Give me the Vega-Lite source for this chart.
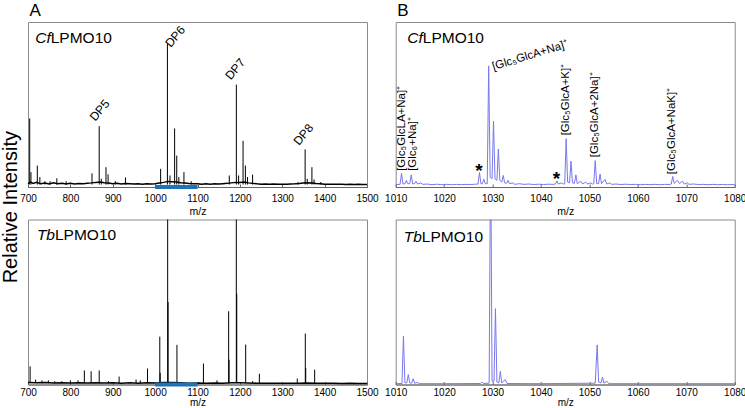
{
  "$schema": "https://vega.github.io/schema/vega-lite/v6.json",
  "background": "white",
  "padding": {"left": 0, "top": 1.0, "right": 0, "bottom": 0},
  "config": {
    "font": "Liberation Sans",
    "view": {"stroke": "#8a8a8a", "strokeWidth": 1},
    "axis": {"grid": false, "labelFont": "Liberation Sans", "labelFontSize": 10, "labelColor": "#000", "titleFont": "Liberation Sans", "titleFontSize": 10.5, "titleFontWeight": "normal", "titleColor": "#000", "tickSize": -3, "tickColor": "#666", "domainColor": "#666", "labelPadding": 9, "titlePadding": 3, "labelFlush": false, "format": "d"},
    "title": {"anchor": "start", "frame": "group", "fontSize": 17, "fontWeight": "normal", "font": "Liberation Sans", "color": "#000", "offset": 2.3, "dx": 1.5, "baseline": "alphabetic"},
    "text": {"font": "Liberation Sans", "color": "#000"}
  },
  "datasets": {
    "cfA_base": [{"mz":700,"i":0.02},{"mz":706,"i":0.03},{"mz":712,"i":0.022},{"mz":720,"i":0.028},{"mz":730,"i":0.02},{"mz":740,"i":0.024},{"mz":750,"i":0.019},{"mz":760,"i":0.025},{"mz":770,"i":0.02},{"mz":780,"i":0.022},{"mz":790,"i":0.018},{"mz":800,"i":0.022},{"mz":810,"i":0.018},{"mz":820,"i":0.021},{"mz":830,"i":0.019},{"mz":840,"i":0.023},{"mz":850,"i":0.025},{"mz":860,"i":0.028},{"mz":870,"i":0.03},{"mz":880,"i":0.026},{"mz":890,"i":0.024},{"mz":900,"i":0.02},{"mz":910,"i":0.022},{"mz":920,"i":0.018},{"mz":930,"i":0.021},{"mz":940,"i":0.02},{"mz":950,"i":0.018},{"mz":960,"i":0.02},{"mz":970,"i":0.017},{"mz":980,"i":0.019},{"mz":990,"i":0.018},{"mz":1000,"i":0.02},{"mz":1010,"i":0.024},{"mz":1020,"i":0.028},{"mz":1030,"i":0.034},{"mz":1040,"i":0.032},{"mz":1050,"i":0.03},{"mz":1060,"i":0.026},{"mz":1070,"i":0.024},{"mz":1080,"i":0.021},{"mz":1090,"i":0.019},{"mz":1100,"i":0.02},{"mz":1110,"i":0.017},{"mz":1120,"i":0.019},{"mz":1130,"i":0.017},{"mz":1140,"i":0.019},{"mz":1150,"i":0.018},{"mz":1160,"i":0.02},{"mz":1170,"i":0.022},{"mz":1180,"i":0.025},{"mz":1190,"i":0.028},{"mz":1200,"i":0.027},{"mz":1210,"i":0.03},{"mz":1220,"i":0.025},{"mz":1230,"i":0.022},{"mz":1240,"i":0.019},{"mz":1250,"i":0.017},{"mz":1260,"i":0.018},{"mz":1270,"i":0.016},{"mz":1280,"i":0.018},{"mz":1290,"i":0.016},{"mz":1300,"i":0.017},{"mz":1310,"i":0.016},{"mz":1320,"i":0.018},{"mz":1330,"i":0.019},{"mz":1340,"i":0.021},{"mz":1350,"i":0.024},{"mz":1360,"i":0.026},{"mz":1370,"i":0.024},{"mz":1380,"i":0.021},{"mz":1390,"i":0.019},{"mz":1400,"i":0.017},{"mz":1410,"i":0.016},{"mz":1420,"i":0.017},{"mz":1430,"i":0.016},{"mz":1440,"i":0.016},{"mz":1450,"i":0.015},{"mz":1460,"i":0.016},{"mz":1470,"i":0.015},{"mz":1480,"i":0.016},{"mz":1490,"i":0.015},{"mz":1500,"i":0.015}],
    "cfA_peaks": [{"mz":704,"i":0.415},{"mz":707,"i":0.09},{"mz":722,"i":0.13},{"mz":728,"i":0.06},{"mz":740,"i":0.035},{"mz":752,"i":0.035},{"mz":768,"i":0.053},{"mz":790,"i":0.035},{"mz":851,"i":0.083},{"mz":868,"i":0.369},{"mz":873,"i":0.05},{"mz":884,"i":0.12},{"mz":889,"i":0.077},{"mz":906,"i":0.035},{"mz":930,"i":0.058},{"mz":1013,"i":0.11},{"mz":1029,"i":0.867},{"mz":1035,"i":0.07},{"mz":1046,"i":0.355},{"mz":1051,"i":0.19},{"mz":1056,"i":0.06},{"mz":1068,"i":0.09},{"mz":1085,"i":0.035},{"mz":1175,"i":0.07},{"mz":1191.7,"i":0.62},{"mz":1197,"i":0.07},{"mz":1207.5,"i":0.28},{"mz":1213,"i":0.13},{"mz":1218,"i":0.06},{"mz":1230,"i":0.075},{"mz":1337,"i":0.03},{"mz":1354,"i":0.228},{"mz":1359,"i":0.05},{"mz":1370,"i":0.12},{"mz":1375,"i":0.045},{"mz":1391,"i":0.03}],
    "tbA_base": [{"mz":700,"i":0.012},{"mz":720,"i":0.01},{"mz":740,"i":0.012},{"mz":760,"i":0.009},{"mz":780,"i":0.011},{"mz":800,"i":0.009},{"mz":820,"i":0.011},{"mz":840,"i":0.009},{"mz":860,"i":0.011},{"mz":880,"i":0.009},{"mz":900,"i":0.01},{"mz":920,"i":0.008},{"mz":940,"i":0.01},{"mz":960,"i":0.008},{"mz":980,"i":0.01},{"mz":1000,"i":0.009},{"mz":1020,"i":0.012},{"mz":1040,"i":0.012},{"mz":1060,"i":0.01},{"mz":1080,"i":0.008},{"mz":1100,"i":0.009},{"mz":1120,"i":0.008},{"mz":1140,"i":0.009},{"mz":1160,"i":0.008},{"mz":1180,"i":0.011},{"mz":1200,"i":0.01},{"mz":1220,"i":0.009},{"mz":1240,"i":0.008},{"mz":1260,"i":0.008},{"mz":1280,"i":0.007},{"mz":1300,"i":0.008},{"mz":1320,"i":0.007},{"mz":1340,"i":0.008},{"mz":1360,"i":0.009},{"mz":1380,"i":0.008},{"mz":1400,"i":0.007},{"mz":1420,"i":0.007},{"mz":1440,"i":0.006},{"mz":1460,"i":0.007},{"mz":1480,"i":0.006},{"mz":1500,"i":0.006}],
    "tbA_peaks": [{"mz":705,"i":0.11},{"mz":718,"i":0.03},{"mz":733,"i":0.025},{"mz":748,"i":0.025},{"mz":763,"i":0.02},{"mz":780,"i":0.02},{"mz":800,"i":0.025},{"mz":818,"i":0.025},{"mz":833,"i":0.085},{"mz":849,"i":0.08},{"mz":868,"i":0.085},{"mz":890,"i":0.02},{"mz":915,"i":0.048},{"mz":955,"i":0.03},{"mz":965,"i":0.025},{"mz":982,"i":0.097},{"mz":1011,"i":0.29},{"mz":1012,"i":0.07},{"mz":1029.6,"i":1.5},{"mz":1030.6,"i":0.5},{"mz":1051.5,"i":0.24},{"mz":1114,"i":0.127},{"mz":1146,"i":0.025},{"mz":1173.5,"i":0.444},{"mz":1174.5,"i":0.15},{"mz":1191.6,"i":1.5},{"mz":1192.6,"i":0.55},{"mz":1213.7,"i":0.242},{"mz":1230,"i":0.02},{"mz":1246,"i":0.065},{"mz":1335.5,"i":0.036},{"mz":1354.4,"i":0.309},{"mz":1355.4,"i":0.1},{"mz":1376.5,"i":0.09}],
    "cfB": [{"mz":1010,"i":0.015},{"mz":1010.9,"i":0.016},{"mz":1011.2,"i":0.082},{"mz":1011.5,"i":0.018},{"mz":1011.9,"i":0.02},{"mz":1012.2,"i":0.04},{"mz":1012.5,"i":0.02},{"mz":1012.9,"i":0.02},{"mz":1013.2,"i":0.074},{"mz":1013.5,"i":0.02},{"mz":1013.9,"i":0.02},{"mz":1014.2,"i":0.035},{"mz":1014.5,"i":0.018},{"mz":1015.2,"i":0.024},{"mz":1015.6,"i":0.016},{"mz":1016.5,"i":0.018},{"mz":1017.5,"i":0.014},{"mz":1018.5,"i":0.017},{"mz":1019.5,"i":0.014},{"mz":1020.5,"i":0.016},{"mz":1021.5,"i":0.014},{"mz":1022.5,"i":0.016},{"mz":1023.5,"i":0.014},{"mz":1024.5,"i":0.016},{"mz":1025.5,"i":0.015},{"mz":1026.5,"i":0.017},{"mz":1027.0,"i":0.018},{"mz":1027.3,"i":0.088},{"mz":1027.6,"i":0.02},{"mz":1027.9,"i":0.02},{"mz":1028.2,"i":0.047},{"mz":1028.5,"i":0.02},{"mz":1028.9,"i":0.02},{"mz":1029.2,"i":0.734},{"mz":1029.5,"i":0.06},{"mz":1029.9,"i":0.05},{"mz":1030.2,"i":0.4},{"mz":1030.5,"i":0.05},{"mz":1030.9,"i":0.04},{"mz":1031.2,"i":0.23},{"mz":1031.5,"i":0.04},{"mz":1031.9,"i":0.03},{"mz":1032.2,"i":0.07},{"mz":1032.5,"i":0.025},{"mz":1032.9,"i":0.022},{"mz":1033.2,"i":0.04},{"mz":1033.5,"i":0.02},{"mz":1034.2,"i":0.025},{"mz":1034.6,"i":0.016},{"mz":1035.5,"i":0.02},{"mz":1036.5,"i":0.016},{"mz":1037.5,"i":0.018},{"mz":1038.5,"i":0.015},{"mz":1039.5,"i":0.017},{"mz":1040.5,"i":0.015},{"mz":1041.5,"i":0.017},{"mz":1042.5,"i":0.016},{"mz":1043.0,"i":0.018},{"mz":1043.3,"i":0.037},{"mz":1043.6,"i":0.018},{"mz":1044.2,"i":0.025},{"mz":1044.6,"i":0.018},{"mz":1044.9,"i":0.02},{"mz":1045.2,"i":0.293},{"mz":1045.5,"i":0.03},{"mz":1045.9,"i":0.025},{"mz":1046.2,"i":0.156},{"mz":1046.5,"i":0.025},{"mz":1046.9,"i":0.022},{"mz":1047.2,"i":0.074},{"mz":1047.5,"i":0.02},{"mz":1048.2,"i":0.035},{"mz":1048.6,"i":0.018},{"mz":1049.2,"i":0.03},{"mz":1049.6,"i":0.018},{"mz":1050.2,"i":0.025},{"mz":1050.6,"i":0.018},{"mz":1050.9,"i":0.02},{"mz":1051.2,"i":0.16},{"mz":1051.5,"i":0.022},{"mz":1051.9,"i":0.02},{"mz":1052.2,"i":0.078},{"mz":1052.5,"i":0.02},{"mz":1053.2,"i":0.045},{"mz":1053.6,"i":0.018},{"mz":1054.2,"i":0.025},{"mz":1054.6,"i":0.016},{"mz":1055.5,"i":0.018},{"mz":1056.5,"i":0.015},{"mz":1057.5,"i":0.017},{"mz":1058.5,"i":0.015},{"mz":1059.5,"i":0.016},{"mz":1060.5,"i":0.014},{"mz":1061.5,"i":0.016},{"mz":1062.5,"i":0.014},{"mz":1063.5,"i":0.016},{"mz":1064.5,"i":0.014},{"mz":1065.5,"i":0.016},{"mz":1066.5,"i":0.015},{"mz":1066.9,"i":0.018},{"mz":1067.2,"i":0.064},{"mz":1067.5,"i":0.022},{"mz":1068.2,"i":0.04},{"mz":1068.6,"i":0.02},{"mz":1069.2,"i":0.035},{"mz":1069.6,"i":0.018},{"mz":1070.2,"i":0.025},{"mz":1070.6,"i":0.016},{"mz":1071.5,"i":0.018},{"mz":1072.5,"i":0.015},{"mz":1073.5,"i":0.016},{"mz":1074.5,"i":0.014},{"mz":1075.5,"i":0.016},{"mz":1076.5,"i":0.014},{"mz":1077.5,"i":0.015},{"mz":1078.5,"i":0.014},{"mz":1080,"i":0.015}],
    "tbB": [{"mz":1010,"i":0.005},{"mz":1011.3,"i":0.006},{"mz":1011.6,"i":0.294},{"mz":1011.9,"i":0.01},{"mz":1012.3,"i":0.01},{"mz":1012.6,"i":0.06},{"mz":1012.9,"i":0.01},{"mz":1013.3,"i":0.008},{"mz":1013.6,"i":0.035},{"mz":1013.9,"i":0.008},{"mz":1014.5,"i":0.012},{"mz":1015,"i":0.005},{"mz":1020,"i":0.005},{"mz":1027.5,"i":0.006},{"mz":1027.8,"i":0.015},{"mz":1028.1,"i":0.006},{"mz":1029.3,"i":0.008},{"mz":1029.6,"i":1.5},{"mz":1029.9,"i":0.02},{"mz":1030.3,"i":0.02},{"mz":1030.6,"i":0.46},{"mz":1030.9,"i":0.015},{"mz":1031.3,"i":0.01},{"mz":1031.6,"i":0.08},{"mz":1031.9,"i":0.01},{"mz":1032.6,"i":0.03},{"mz":1033,"i":0.006},{"mz":1040,"i":0.005},{"mz":1051.2,"i":0.008},{"mz":1051.6,"i":0.24},{"mz":1051.9,"i":0.015},{"mz":1052.4,"i":0.01},{"mz":1052.7,"i":0.045},{"mz":1053.0,"i":0.008},{"mz":1053.6,"i":0.02},{"mz":1054,"i":0.005},{"mz":1060,"i":0.005},{"mz":1080,"i":0.005}],
    "bar": [{"start":1000,"end":1100}]
  },
  "columns": 2,
  "spacing": {"row": 32.5, "column": 28.7},
  "bounds": "flush",
  "concat": [
    {
      "width": 339, "height": 165,
      "title": {"text": "A"},
      "layer": [
        {"data": {"name": "cfA_base"}, "mark": {"type": "line", "color": "#000", "strokeWidth": 1.5},
         "encoding": {
           "x": {"field": "mz", "type": "quantitative", "scale": {"domain": [700, 1500]},
                 "axis": {"title": "m/z", "values": [700,750,800,850,900,950,1000,1050,1100,1150,1200,1250,1300,1350,1400,1450,1500], "labelExpr": "datum.value % 100 === 0 ? datum.label : ''"}},
           "y": {"field": "i", "type": "quantitative", "scale": {"domain": [0, 1]},
                 "axis": {"title": "Relative Intensity", "labels": false, "ticks": false, "domain": false, "titleFontSize": 20, "titleX": -11.5, "titleY": 184.7, "titleAngle": 270, "titleAlign": "center", "titleBaseline": "alphabetic"}}
         }},
        {"data": {"name": "cfA_peaks"}, "mark": {"type": "rule", "color": "#000", "strokeWidth": 1},
         "encoding": {"x": {"field": "mz", "type": "quantitative"}, "y": {"field": "i", "type": "quantitative"}, "y2": {"datum": 0.015}}},
        {"data": {"name": "bar"}, "mark": {"type": "rule", "color": "#1f72b6", "strokeWidth": 4},
         "encoding": {"x": {"field": "start", "type": "quantitative"}, "x2": {"field": "end"}, "y": {"datum": 0}}},
        {"data": {"values": [{"mz": 858.8, "i": 0.395, "t": "DP5"}, {"mz": 1036.7, "i": 0.842, "t": "DP6"}, {"mz": 1178.3, "i": 0.645, "t": "DP7"}, {"mz": 1339.5, "i": 0.248, "t": "DP8"}]},
         "mark": {"type": "text", "angle": 310, "align": "left", "baseline": "alphabetic", "fontSize": 12},
         "encoding": {"x": {"field": "mz", "type": "quantitative"}, "y": {"field": "i", "type": "quantitative"}, "text": {"field": "t"}}},
        {"data": {"values": [{"mz": 753.6, "i": 0.872, "a": "Cf", "b": "LPMO10"}]},
         "mark": {"type": "text", "align": "right", "baseline": "alphabetic", "fontSize": 15.5, "fontStyle": "italic"},
         "encoding": {"x": {"field": "mz", "type": "quantitative"}, "y": {"field": "i", "type": "quantitative"}, "text": {"field": "a"}}},
        {"data": {"values": [{"mz": 753.6, "i": 0.872, "a": "Cf", "b": "LPMO10"}]},
         "mark": {"type": "text", "align": "left", "baseline": "alphabetic", "fontSize": 15.5},
         "encoding": {"x": {"field": "mz", "type": "quantitative"}, "y": {"field": "i", "type": "quantitative"}, "text": {"field": "b"}}}
      ]
    },
    {
      "width": 339, "height": 165,
      "title": {"text": "B"},
      "layer": [
        {"data": {"name": "cfB"}, "mark": {"type": "line", "color": "#7878ee", "strokeWidth": 1, "clip": true},
         "encoding": {
           "x": {"field": "mz", "type": "quantitative", "scale": {"domain": [1010, 1080]},
                 "axis": {"title": "m/z", "values": [1010,1015,1020,1025,1030,1035,1040,1045,1050,1055,1060,1065,1070,1075,1080], "labelExpr": "datum.value % 10 === 0 ? datum.label : ''"}},
           "y": {"field": "i", "type": "quantitative", "scale": {"domain": [0, 1]}, "axis": null}
         }},
        {"data": {"values": [{"mz": 1011.2, "i": 0.098, "t": "[Glc₅GlcLA+Na]⁺"}, {"mz": 1013.5, "i": 0.098, "t": "[Glc₆+Na]⁺"}, {"mz": 1045.1, "i": 0.313, "t": "[Glc₅GlcA+K]⁺"}, {"mz": 1051.1, "i": 0.18, "t": "[Glc₅GlcA+2Na]⁺"}, {"mz": 1067.1, "i": 0.078, "t": "[Glc₅GlcA+NaK]⁺"}]},
         "mark": {"type": "text", "angle": 270, "align": "left", "baseline": "middle", "fontSize": 11.5},
         "encoding": {"x": {"field": "mz", "type": "quantitative"}, "y": {"field": "i", "type": "quantitative"}, "text": {"field": "t"}}},
        {"data": {"values": [{"mz": 1030.2, "i": 0.708, "t": "[Glc₅GlcA+Na]⁺"}]},
         "mark": {"type": "text", "angle": 343, "align": "left", "baseline": "alphabetic", "fontSize": 11.5},
         "encoding": {"x": {"field": "mz", "type": "quantitative"}, "y": {"field": "i", "type": "quantitative"}, "text": {"field": "t"}}},
        {"data": {"values": [{"mz": 1027.2, "i": 0.058, "t": "*"}, {"mz": 1043.2, "i": 0.01, "t": "*"}]},
         "mark": {"type": "text", "align": "center", "baseline": "alphabetic", "fontSize": 19, "fontWeight": "bold"},
         "encoding": {"x": {"field": "mz", "type": "quantitative"}, "y": {"field": "i", "type": "quantitative"}, "text": {"field": "t"}}},
        {"data": {"values": [{"mz": 1015.6, "i": 0.871, "a": "Cf", "b": "LPMO10"}]},
         "mark": {"type": "text", "align": "right", "baseline": "alphabetic", "fontSize": 15.5, "fontStyle": "italic"},
         "encoding": {"x": {"field": "mz", "type": "quantitative"}, "y": {"field": "i", "type": "quantitative"}, "text": {"field": "a"}}},
        {"data": {"values": [{"mz": 1015.6, "i": 0.871, "a": "Cf", "b": "LPMO10"}]},
         "mark": {"type": "text", "align": "left", "baseline": "alphabetic", "fontSize": 15.5},
         "encoding": {"x": {"field": "mz", "type": "quantitative"}, "y": {"field": "i", "type": "quantitative"}, "text": {"field": "b"}}}
      ]
    },
    {
      "width": 339, "height": 165,
      "layer": [
        {"data": {"name": "tbA_base"}, "mark": {"type": "line", "color": "#000", "strokeWidth": 1.5},
         "encoding": {
           "x": {"field": "mz", "type": "quantitative", "scale": {"domain": [700, 1500]},
                 "axis": {"title": "m/z", "labelPadding": 6, "titlePadding": 0, "titleFontSize": 10, "values": [700,750,800,850,900,950,1000,1050,1100,1150,1200,1250,1300,1350,1400,1450,1500], "labelExpr": "datum.value % 100 === 0 ? datum.label : ''"}},
           "y": {"field": "i", "type": "quantitative", "scale": {"domain": [0, 1]}, "axis": null}
         }},
        {"data": {"name": "tbA_peaks"}, "mark": {"type": "rule", "color": "#000", "strokeWidth": 1, "clip": true},
         "encoding": {"x": {"field": "mz", "type": "quantitative"}, "y": {"field": "i", "type": "quantitative"}, "y2": {"datum": 0.008}}},
        {"data": {"name": "bar"}, "mark": {"type": "rule", "color": "#1f72b6", "strokeWidth": 4},
         "encoding": {"x": {"field": "start", "type": "quantitative"}, "x2": {"field": "end"}, "y": {"datum": 0}}},
        {"data": {"values": [{"mz": 763.7, "i": 0.874, "a": "Tb", "b": "LPMO10"}]},
         "mark": {"type": "text", "align": "right", "baseline": "alphabetic", "fontSize": 15.5, "fontStyle": "italic"},
         "encoding": {"x": {"field": "mz", "type": "quantitative"}, "y": {"field": "i", "type": "quantitative"}, "text": {"field": "a"}}},
        {"data": {"values": [{"mz": 763.7, "i": 0.874, "a": "Tb", "b": "LPMO10"}]},
         "mark": {"type": "text", "align": "left", "baseline": "alphabetic", "fontSize": 15.5},
         "encoding": {"x": {"field": "mz", "type": "quantitative"}, "y": {"field": "i", "type": "quantitative"}, "text": {"field": "b"}}}
      ]
    },
    {
      "width": 339, "height": 165,
      "layer": [
        {"data": {"name": "tbB"}, "mark": {"type": "line", "color": "#7878ee", "strokeWidth": 1, "clip": true},
         "encoding": {
           "x": {"field": "mz", "type": "quantitative", "scale": {"domain": [1010, 1080]},
                 "axis": {"title": "m/z", "labelPadding": 6, "titlePadding": 0, "titleFontSize": 10, "values": [1010,1015,1020,1025,1030,1035,1040,1045,1050,1055,1060,1065,1070,1075,1080], "labelExpr": "datum.value % 10 === 0 ? datum.label : ''"}},
           "y": {"field": "i", "type": "quantitative", "scale": {"domain": [0, 1]}, "axis": null}
         }},
        {"data": {"values": [{"mz": 1015.4, "i": 0.865, "a": "Tb", "b": "LPMO10"}]},
         "mark": {"type": "text", "align": "right", "baseline": "alphabetic", "fontSize": 15.5, "fontStyle": "italic"},
         "encoding": {"x": {"field": "mz", "type": "quantitative"}, "y": {"field": "i", "type": "quantitative"}, "text": {"field": "a"}}},
        {"data": {"values": [{"mz": 1015.4, "i": 0.865, "a": "Tb", "b": "LPMO10"}]},
         "mark": {"type": "text", "align": "left", "baseline": "alphabetic", "fontSize": 15.5},
         "encoding": {"x": {"field": "mz", "type": "quantitative"}, "y": {"field": "i", "type": "quantitative"}, "text": {"field": "b"}}}
      ]
    }
  ]
}
